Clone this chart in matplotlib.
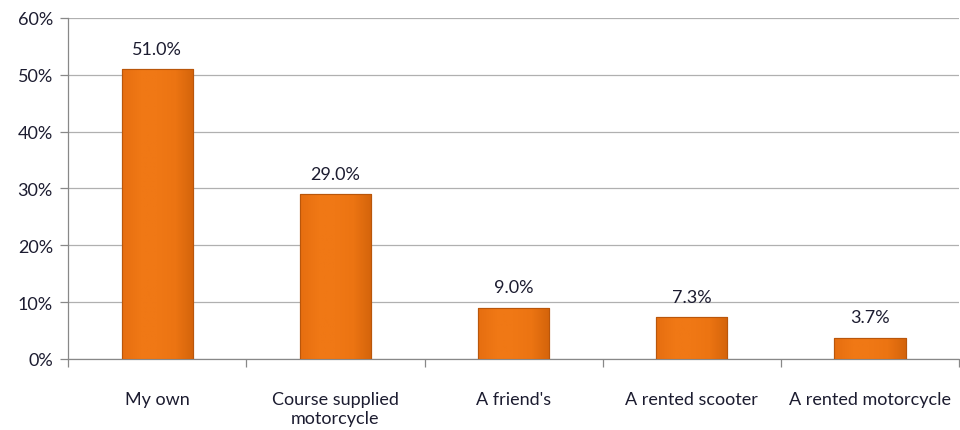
import matplotlib
matplotlib.use("Agg")
import matplotlib.pyplot as plt
import numpy as np
from matplotlib.colors import LinearSegmentedColormap
from matplotlib.ticker import FuncFormatter

# data
categories = ["My own", "Course supplied\nmotorcycle", "A friend's",
              "A rented scooter", "A rented motorcycle"]
shares = [51.0, 29.0, 9.0, 7.3, 3.7]
yticks = [0, 10, 20, 30, 40, 50, 60]

plt.rcParams['font.family'] = ['Lato', 'DejaVu Sans']
txt_col = '#1c1c30'
fs = 13

fig = plt.figure(figsize=(9.6, 4.31), dpi=100)
ax = fig.add_axes([0.071, 0.165, 0.928, 0.791])

x = np.arange(len(categories))
bars = ax.bar(x, shares, width=0.4, color='#EF7614', edgecolor='#B9560B',
              linewidth=0.8, zorder=3)

# light horizontal shading, a little darker toward the right edge
bar_cmap = LinearSegmentedColormap.from_list(
    'bar', ['#E66E10', '#F07815', '#F07815', '#EC7412', '#D4640B'])
grad = np.vstack([np.linspace(0, 1, 64)] * 2)
for b in bars:
    im = ax.imshow(grad, cmap=bar_cmap, aspect='auto', zorder=3.5,
                   extent=[b.get_x(), b.get_x() + b.get_width(), 0, b.get_height()])
    im.set_clip_path(b)
    ax.add_patch(plt.Rectangle((b.get_x(), 0), b.get_width(), b.get_height(),
                               fill=False, edgecolor='#B9560B', linewidth=0.8,
                               zorder=4))

for xi, v in zip(x, shares):
    ax.annotate(f"{v:.1f}%", (xi, v), xytext=(0, 9), textcoords='offset points',
                ha='center', va='bottom', fontsize=fs, color=txt_col)

ax.set_xlim(-0.5, len(categories) - 0.5)
ax.set_ylim(0, 60)
ax.set_yticks(yticks)
ax.yaxis.set_major_formatter(FuncFormatter(lambda v, p: f"{v:.0f}%"))
ax.grid(axis='y', color='#b0b0b0', linewidth=0.9, zorder=0)

ax.set_xticks(x)
ax.set_xticklabels(categories, fontsize=fs, color=txt_col, linespacing=1.25)
ax.set_xticks(np.arange(len(categories) + 1) - 0.5, minor=True)
ax.tick_params(axis='x', which='major', length=0, pad=23)
ax.tick_params(axis='x', which='minor', length=6, color='#888888', width=0.9)
ax.tick_params(axis='y', length=6, color='#888888', width=0.9, labelsize=fs,
               labelcolor=txt_col, pad=5)

for s in ['top', 'right']:
    ax.spines[s].set_visible(False)
for s in ['left', 'bottom']:
    ax.spines[s].set_color('#888888')
    ax.spines[s].set_linewidth(0.9)

fig.savefig("out.png", dpi=100)
